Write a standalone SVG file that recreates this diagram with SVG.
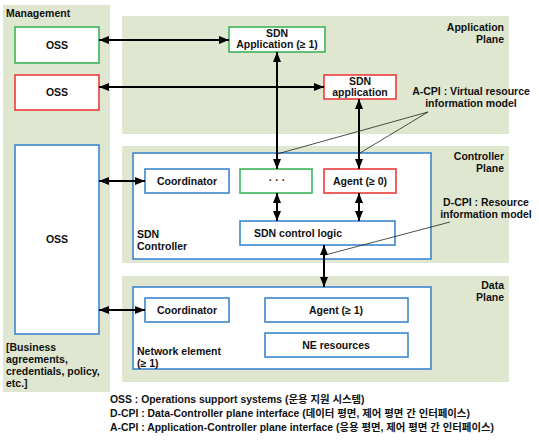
<svg xmlns="http://www.w3.org/2000/svg" width="539" height="444" viewBox="0 0 539 444">
<style>
.panel{fill:#e0e7d0;stroke:none}
.box{fill:#fff;stroke-width:1.6}
.g{stroke:#3cb55a}.r{stroke:#ee3b3b}.b{stroke:#3c86cf}
text{font-family:"Liberation Sans","Noto Sans CJK KR",sans-serif;font-weight:bold;font-size:10.5px;fill:#111}
.c{text-anchor:middle}.e{text-anchor:end}
.ar{stroke:#000;stroke-width:2;fill:none;marker-start:url(#ah);marker-end:url(#ah)}
.thin{stroke:#222;stroke-width:0.8;fill:none}
.leg{font-size:10.4px}
</style>
<defs>
<marker id="ah" viewBox="0 0 10 8" refX="10" refY="4" markerWidth="10" markerHeight="8" markerUnits="userSpaceOnUse" orient="auto-start-reverse">
<path d="M0,0 L10,4 L0,8 z" fill="#000"/>
</marker>
</defs>
<rect width="539" height="444" fill="#fff"/>
<g id="panels">
<rect class="panel" x="3" y="5" width="107" height="387"/>
<rect class="panel" x="122" y="16" width="387" height="118"/>
<rect class="panel" x="122" y="146" width="387" height="117"/>
<rect class="panel" x="122" y="276" width="387" height="106"/>
<text x="6" y="17">Management</text>
<text class="e" x="504" y="31">Application</text>
<text class="e" x="504" y="43">Plane</text>
<text class="e" x="504" y="160">Controller</text>
<text class="e" x="504" y="172">Plane</text>
<text class="e" x="504" y="289">Data</text>
<text class="e" x="504" y="301">Plane</text>
</g>
<g id="oss1"><rect class="box g" x="15" y="27" width="84" height="36"/><text class="c" x="57" y="49">OSS</text></g>
<g id="oss2"><rect class="box r" x="15" y="75" width="84" height="35"/><text class="c" x="57" y="96">OSS</text></g>
<g id="oss3"><rect class="box b" x="15" y="145" width="84" height="189"/><text class="c" x="57" y="243">OSS</text>
<text x="6" y="351">[Business</text><text x="6" y="363">agreements,</text><text x="6" y="375">credentials, policy,</text><text x="6" y="387">etc.]</text></g>
<g id="sdnapp1"><rect class="box g" x="229" y="27" width="96" height="25"/><text class="c" x="277" y="37">SDN</text><text class="c" x="277" y="48">Application (≥ 1)</text></g>
<g id="sdnapp2"><rect class="box r" x="324" y="75" width="72" height="24"/><text class="c" x="360" y="85">SDN</text><text class="c" x="360" y="96">application</text></g>
<g id="controller"><rect class="box b" x="133" y="153" width="298" height="106"/><text x="137" y="238">SDN</text><text x="137" y="250">Controller</text></g>
<g id="coord1"><rect class="box b" x="145" y="169" width="84" height="24"/><text class="c" x="187" y="185">Coordinator</text></g>
<g id="dots"><rect class="box g" x="240" y="169" width="72" height="24"/><text class="c" x="277" y="184">· · ·</text></g>
<g id="agent0"><rect class="box r" x="324" y="169" width="72" height="24"/><text class="c" x="360" y="185">Agent (≥ 0)</text></g>
<g id="logic"><rect class="box b" x="240" y="221" width="155" height="24"/><text class="c" x="298" y="237">SDN control logic</text></g>
<g id="ne"><rect class="box b" x="133" y="287" width="298" height="82"/><text x="137" y="355">Network element</text><text x="137" y="367">(≥ 1)</text></g>
<g id="coord2"><rect class="box b" x="145" y="298" width="84" height="24"/><text class="c" x="187" y="314">Coordinator</text></g>
<g id="agent1"><rect class="box b" x="265" y="298" width="143" height="24"/><text class="c" x="336" y="314">Agent (≥ 1)</text></g>
<g id="neres"><rect class="box b" x="265" y="333" width="143" height="24"/><text class="c" x="336" y="349">NE resources</text></g>
<g id="connectors">
<line class="ar" x1="99" y1="40" x2="229" y2="40"/>
<line class="ar" x1="99" y1="87" x2="324" y2="87"/>
<line class="ar" x1="277" y1="52" x2="277" y2="169"/>
<line class="ar" x1="359" y1="99" x2="359" y2="169"/>
<line class="ar" x1="277" y1="193" x2="277" y2="221"/>
<line class="ar" x1="359" y1="193" x2="359" y2="221"/>
<line class="ar" x1="324" y1="245" x2="324" y2="287"/>
<line class="ar" x1="99" y1="181" x2="145" y2="181"/>
<line class="ar" x1="99" y1="310" x2="145" y2="310"/>
<line class="thin" x1="428" y1="112" x2="277" y2="154"/>
<line class="thin" x1="428" y1="112" x2="360" y2="153"/>
<line class="thin" x1="450" y1="222" x2="325" y2="255"/>
</g>
<g id="labels">
<text class="c" x="471" y="95">A-CPI : Virtual resource</text>
<text class="c" x="471" y="107">information model</text>
<text class="c" x="486" y="206">D-CPI : Resource</text>
<text class="c" x="486" y="218">information model</text>
</g>
<g id="legend">
<text class="leg" x="110" y="403">OSS : Operations support systems (운용 지원 시스템)</text>
<text class="leg" x="110" y="417">D-CPI : Data-Controller plane interface (데이터 평면, 제어 평면 간 인터페이스)</text>
<text class="leg" x="110" y="431">A-CPI : Application-Controller plane interface (응용 평면, 제어 평면  간 인터페이스)</text>
</g>
</svg>
